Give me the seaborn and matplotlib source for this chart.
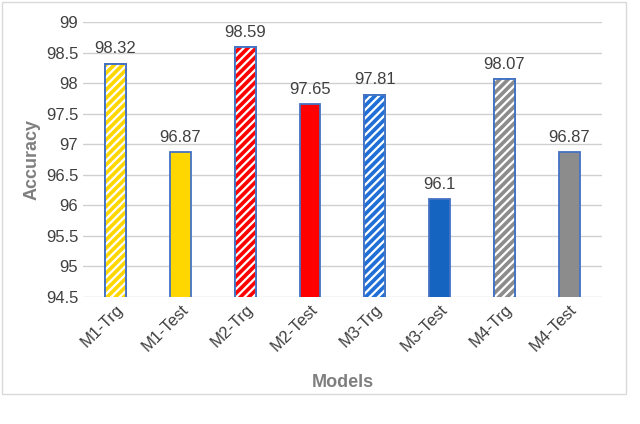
import matplotlib
matplotlib.use("Agg")
import matplotlib.pyplot as plt
import seaborn as sns
import pandas as pd

models = ["M1-Trg","M1-Test","M2-Trg","M2-Test","M3-Trg","M3-Test","M4-Trg","M4-Test"]
accuracy = [98.32, 96.87, 98.59, 97.65, 97.81, 96.1, 98.07, 96.87]
colors = ["#FFD700","#FFD700","#FF0000","#FF0000","#1F6FD6","#1565C0","#8C8C8C","#8C8C8C"]
yticks = [94.5,95,95.5,96,96.5,97,97.5,98,98.5,99]

sns.set_style("white")
plt.rcParams['font.family'] = ['Liberation Sans', 'DejaVu Sans']
plt.rcParams['hatch.linewidth'] = 1.6

df = pd.DataFrame({"Models": models, "Accuracy": accuracy})
fig = plt.figure(figsize=(6.4, 4.24), dpi=100)
ax = fig.add_axes([0.13, 0.30, 0.81, 0.648])
sns.barplot(data=df, x="Models", y="Accuracy", hue="Models", palette=colors,
            legend=False, ax=ax, width=0.32, edgecolor="#4472C4", linewidth=1.3, saturation=1)
bars = list(ax.patches)
for i, p in enumerate(bars):
    if i % 2 == 0:
        x, y0 = p.get_x(), p.get_y()
        w, h = p.get_width(), p.get_height()
        ax.add_patch(plt.Rectangle((x, y0), w, h, fill=False, hatch="////",
                                   ec="white", lw=0, zorder=p.get_zorder()+0.1))
        ax.add_patch(plt.Rectangle((x, y0), w, h, fill=False, ec="#4472C4",
                                   lw=1.3, zorder=p.get_zorder()+0.2))
    ax.text(p.get_x()+p.get_width()/2, p.get_height()+0.12, f"{accuracy[i]:g}",
            ha="center", va="bottom", fontsize=12, color="#404040")
ax.set_ylim(94.5, 99)
ax.set_yticks(yticks)
ax.set_yticklabels([f"{t:g}" for t in yticks], fontsize=12, color="#404040")
ax.grid(axis="y", color="#D0D0D0", lw=1)
ax.set_axisbelow(True)
for s in ax.spines.values():
    s.set_visible(False)
ax.tick_params(axis="x", labelrotation=45, labelsize=12, colors="#404040", length=0)
ax.tick_params(axis="y", length=0)
for lab in ax.get_xticklabels():
    lab.set_ha("right"); lab.set_rotation_mode("anchor")
ax.set_xlabel("Models", fontsize=13, fontweight="bold", color="#7F7F7F", labelpad=14)
ax.set_ylabel("Accuracy", fontsize=13, fontweight="bold", color="#7F7F7F")
fig.patches.append(plt.Rectangle((0.003, 0.07), 0.975, 0.925, transform=fig.transFigure,
                                 fill=False, ec="#D9D9D9", lw=1))
fig.savefig("out.png", dpi=100)
